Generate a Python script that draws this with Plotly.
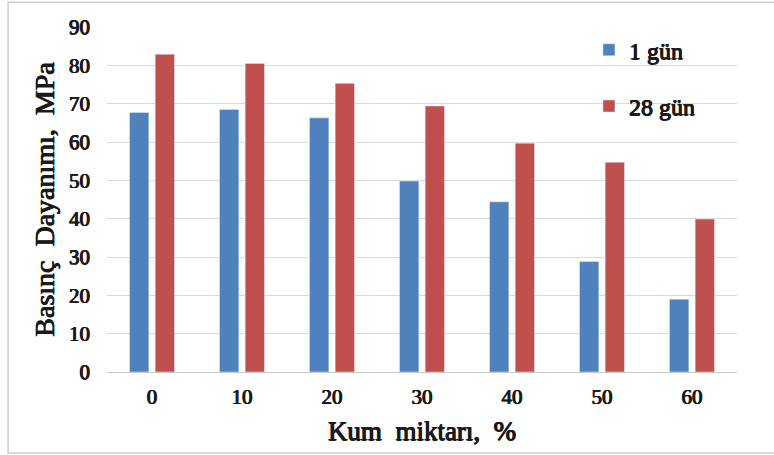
import plotly.graph_objects as go

# Kum oranına göre basınç dayanımı (MPa)
kum_orani = ["0", "10", "20", "30", "40", "50", "60"]
gun_1 = [67.7, 68.5, 66.3, 49.8, 44.4, 28.8, 19.0]
gun_28 = [82.9, 80.5, 75.3, 69.4, 59.7, 54.7, 39.9]
y_ticks = [0, 10, 20, 30, 40, 50, 60, 70, 80, 90]

BLUE = "#4f81bd"
RED = "#c0504d"
FONT = "Liberation Serif"
TXT = "#1a1a1a"
# thin same-colour text shadow to thicken the serif strokes
BOLD = "0.6px 0 0 #1a1a1a, -0.5px 0 0 #1a1a1a, 0 0.4px 0 #1a1a1a"


def f(size):
    return dict(family=FONT, size=size, color=TXT, shadow=BOLD)


fig = go.Figure()
fig.add_trace(go.Bar(
    x=kum_orani, y=gun_1, name="1 gün", marker_color=BLUE,
    width=0.215, offset=-0.25, legendgroup="a",
))
fig.add_trace(go.Bar(
    x=kum_orani, y=gun_28, name="28 gün", marker_color=RED,
    width=0.215, offset=0.035, legendgroup="b",
))

fig.update_layout(
    width=774, height=455,
    margin=dict(l=107, r=37, t=27, b=83),
    paper_bgcolor="white", plot_bgcolor="white",
    barmode="overlay",
    font=dict(family=FONT, color=TXT),
    showlegend=True,
    legend=dict(
        x=0.765, y=0.998, xanchor="left", yanchor="top",
        bgcolor="rgba(0,0,0,0)",
        font=f(24),
        traceorder="grouped", tracegroupgap=22,
        itemwidth=30,
    ),
    xaxis=dict(
        type="category",
        showgrid=False, showline=False, zeroline=False,
        ticks="", ticklabelstandoff=10,
        tickfont=f(21),
        title=dict(text="Kum  miktarı,  %", standoff=13, font=f(27)),
    ),
    yaxis=dict(
        range=[0, 90], tickvals=y_ticks,
        showgrid=True, gridcolor="#d9d9d9", gridwidth=1.2,
        zeroline=True, zerolinecolor="#c8c8c8", zerolinewidth=1.2,
        showline=False, ticks="", ticklabelstandoff=16,
        tickfont=f(21),
        title=dict(text="Basınç  Dayanımı,  MPa", standoff=6, font=f(28)),
    ),
    shapes=[dict(
        type="rect", xref="paper", yref="paper",
        x0=-0.157, x1=1.2, y0=-0.235, y1=1.072,
        line=dict(color="#d0d0d0", width=1.5), fillcolor="rgba(0,0,0,0)",
        layer="below",
    )],
)

fig.write_html("out.html")
